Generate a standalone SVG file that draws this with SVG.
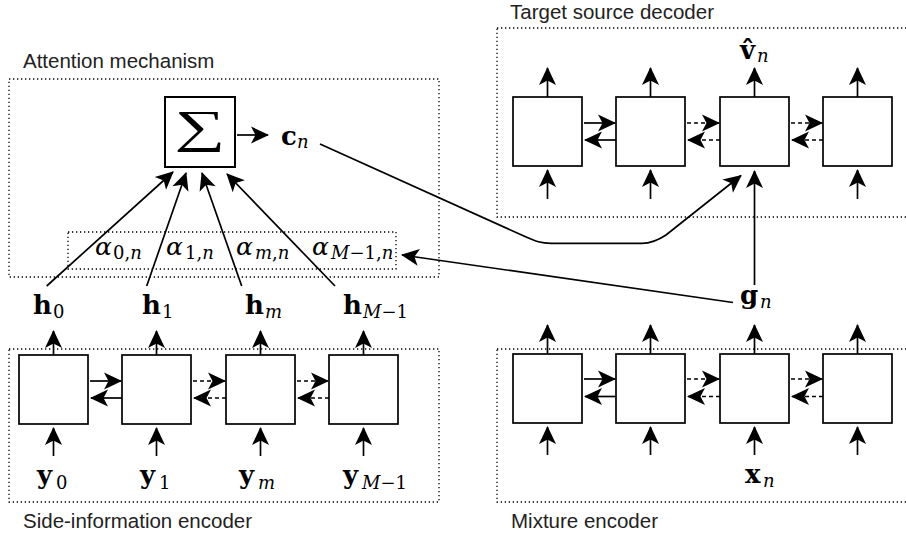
<svg xmlns="http://www.w3.org/2000/svg" width="906" height="541" viewBox="0 0 906 541">
<style>
.dot{fill:none;stroke:#000;stroke-width:1.3;stroke-dasharray:1.3 2.7}
.cell{fill:#fff;stroke:#000;stroke-width:1.7}
.arr{fill:none;stroke:#000;stroke-width:1.7;marker-end:url(#ah)}
.dash{stroke-dasharray:4 3}
.lbl{font-family:"Liberation Sans",Arial,sans-serif;font-size:20.5px;fill:#222}
.mb{font-family:"DejaVu Serif","Liberation Serif",serif;font-weight:bold;font-size:26px}
.sub{font-family:"DejaVu Serif","Liberation Serif",serif;font-size:18px;font-style:italic;font-weight:normal}
.rm{font-style:normal}
.al{font-family:"DejaVu Serif","Liberation Serif",serif;font-style:italic;font-size:25px}
</style>
<defs>
<marker id="ah" markerUnits="userSpaceOnUse" markerWidth="24" markerHeight="20" refX="18" refY="10" orient="auto" overflow="visible"><path d="M19,10 L1,1.5 L5.5,10 L1,18.5 Z" fill="#000"/></marker>
</defs>
<rect width="906" height="541" fill="#fff"/>

<g id="attention-mechanism">
<rect class="dot" x="9" y="79" width="430" height="198"/>
<text class="lbl" x="23" y="68">Attention mechanism</text>
</g>
<g id="target-source-decoder">
<rect class="dot" x="497" y="28" width="420" height="189"/>
<text class="lbl" x="510" y="18.5">Target source decoder</text>
</g>
<g id="side-information-encoder">
<rect class="dot" x="9" y="349" width="430" height="153"/>
<text class="lbl" x="23" y="528">Side-information encoder</text>
</g>
<g id="mixture-encoder">
<rect class="dot" x="497" y="349" width="420" height="153"/>
<text class="lbl" x="511" y="528">Mixture encoder</text>
</g>

<g id="sum">
<rect x="165" y="97" width="70" height="70" fill="#fff" stroke="#000" stroke-width="2"/>
<text transform="translate(200,0) scale(1.55,1)" x="0" y="142.5" text-anchor="middle" font-family="Liberation Serif,DejaVu Serif,serif" font-size="46">∑</text>
</g>
<g id="attention-weights">
<rect class="dot" x="68" y="232" width="328" height="37"/>
<text class="al" x="95" y="255">α<tspan class="sub rm" x="113" y="259">0,<tspan class="sub">n</tspan></tspan></text>
<text class="al" x="166" y="255">α<tspan class="sub rm" x="185" y="259">1,<tspan class="sub">n</tspan></tspan></text>
<text class="al" x="236" y="255">α<tspan class="sub" x="255" y="259">m<tspan class="rm">,</tspan>n</tspan></text>
<text class="al" x="312" y="255">α<tspan class="sub" x="331" y="259">M<tspan class="rm">−1,</tspan>n</tspan></text>
</g>

<g id="c-n"><text class="mb" x="281" y="144.5">c<tspan class="sub" x="297" y="148">n</tspan></text></g>
<g id="v-hat-n"><text class="mb" x="740" y="59">v̂<tspan class="sub" x="757" y="62">n</tspan></text></g>
<g id="g-n"><text class="mb" x="740" y="304">g<tspan class="sub" x="760" y="308">n</tspan></text></g>
<g id="x-n"><text class="mb" x="745" y="483">x<tspan class="sub" x="763" y="487">n</tspan></text></g>

<g id="h-labels">
<text class="mb" x="33" y="314">h<tspan class="sub rm" x="53" y="318">0</tspan></text>
<text class="mb" x="142" y="314">h<tspan class="sub rm" x="162" y="318">1</tspan></text>
<text class="mb" x="245" y="314">h<tspan class="sub" x="265" y="318">m</tspan></text>
<text class="mb" x="343" y="314">h<tspan class="sub" x="363" y="318">M<tspan class="rm">−1</tspan></tspan></text>
</g>
<g id="y-labels">
<text class="mb" x="37" y="484">y<tspan class="sub rm" x="56" y="489">0</tspan></text>
<text class="mb" x="140" y="484">y<tspan class="sub rm" x="159" y="489">1</tspan></text>
<text class="mb" x="239" y="484">y<tspan class="sub" x="258" y="489">m</tspan></text>
<text class="mb" x="343" y="484">y<tspan class="sub" x="362" y="489">M<tspan class="rm">−1</tspan></tspan></text>
</g>

<g id="side-cells">
<rect id="side-0" class="cell" x="19" y="355" width="69" height="69"/>
<rect id="side-1" class="cell" x="122" y="355" width="69" height="69"/>
<rect id="side-2" class="cell" x="226" y="355" width="69" height="69"/>
<rect id="side-3" class="cell" x="329" y="355" width="69" height="69"/>
</g>
<g id="mix-cells">
<rect id="mix-0" class="cell" x="513" y="354" width="69" height="69"/>
<rect id="mix-1" class="cell" x="616" y="354" width="69" height="69"/>
<rect id="mix-2" class="cell" x="720" y="354" width="69" height="69"/>
<rect id="mix-3" class="cell" x="823" y="354" width="69" height="69"/>
</g>
<g id="dec-cells">
<rect id="dec-0" class="cell" x="513" y="97" width="69" height="69"/>
<rect id="dec-1" class="cell" x="616" y="97" width="69" height="69"/>
<rect id="dec-2" class="cell" x="720" y="97" width="69" height="69"/>
<rect id="dec-3" class="cell" x="823" y="97" width="69" height="69"/>
</g>

<g id="connectors">
<path class="arr" d="M53.5,355 V331"/><path class="arr" d="M156.5,355 V331"/><path class="arr" d="M260.5,355 V331"/><path class="arr" d="M363.5,355 V331"/>
<path class="arr" d="M53.5,456 V428"/><path class="arr" d="M156.5,456 V428"/><path class="arr" d="M260.5,456 V428"/><path class="arr" d="M363.5,456 V428"/>
<path class="arr" d="M90,381 H121"/><path class="arr" d="M122,398 H91"/>
<path class="arr dash" d="M193,381 H225"/><path class="arr dash" d="M226,398 H194"/>
<path class="arr dash" d="M297,381 H328"/><path class="arr dash" d="M329,398 H298"/>
<path class="arr" d="M547.5,354 V325"/><path class="arr" d="M650.5,354 V325"/><path class="arr" d="M754.5,354 V325"/><path class="arr" d="M857.5,354 V325"/>
<path class="arr" d="M547.5,455 V427"/><path class="arr" d="M650.5,455 V427"/><path class="arr" d="M754.5,455 V427"/><path class="arr" d="M857.5,455 V427"/>
<path class="arr" d="M584,379 H615"/><path class="arr" d="M616,396.5 H585"/>
<path class="arr dash" d="M687,379 H719"/><path class="arr dash" d="M720,396.5 H688"/>
<path class="arr dash" d="M791,379 H822"/><path class="arr dash" d="M823,396.5 H792"/>
<path class="arr" d="M547.5,97 V68"/><path class="arr" d="M650.5,97 V68"/><path class="arr" d="M754.5,97 V68"/><path class="arr" d="M857.5,97 V68"/>
<path class="arr" d="M547.5,199 V170"/><path class="arr" d="M650.5,199 V170"/><path class="arr" d="M857.5,199 V170"/>
<path class="arr" d="M584,123 H615"/><path class="arr" d="M616,140 H585"/>
<path class="arr dash" d="M687,123 H719"/><path class="arr dash" d="M720,140 H688"/>
<path class="arr dash" d="M791,123 H822"/><path class="arr dash" d="M823,140 H792"/>
<path class="arr" d="M754.5,285 V171"/>
<path class="arr" d="M320,144 L525,236.5 C536,241.5 541,243.3 551,243.3 L642,243.3 C651,243.3 657,241 666,235 L741,175.5"/>
<path class="arr" d="M733,302.5 L402,255"/>
<path class="arr" d="M237,135 H268"/>
<path class="arr" d="M46.7,286 L173,172"/>
<path class="arr" d="M146.7,286 L186,173"/>
<path class="arr" d="M241.7,286 L202,173"/>
<path class="arr" d="M335,286 L227,174"/>
</g>
</svg>
